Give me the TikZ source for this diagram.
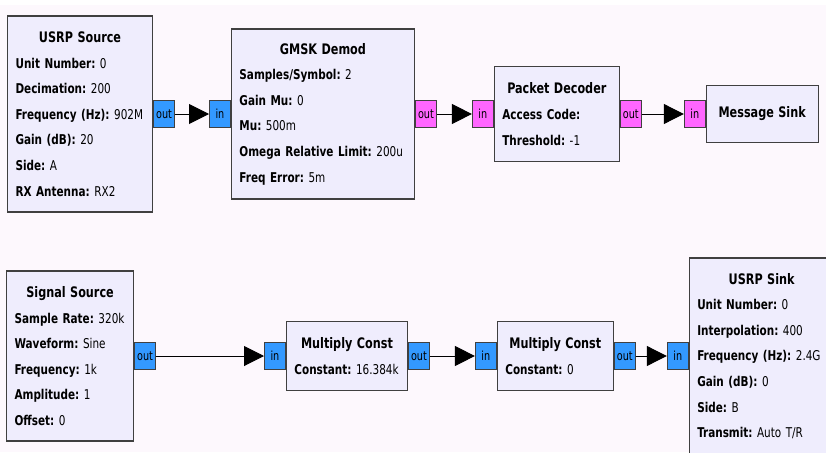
\documentclass[tikz,border=0pt]{standalone}
\usepackage{fontspec}
\setmainfont[FakeStretch=0.86]{DejaVu Sans Condensed}
\usetikzlibrary{arrows.meta, positioning}

\definecolor{canvas}{RGB}{253,248,253}
\definecolor{blockfill}{RGB}{239,237,253}
\definecolor{cplx}{RGB}{51,153,255}
\definecolor{bytes}{RGB}{255,102,255}
\definecolor{edge}{RGB}{64,64,64}

\newcommand{\blocktitle}[1]{\makebox[\hsize]{\fontsize{14.5}{25.6}\selectfont\textbf{#1}}}
\newcommand{\param}[2]{\mbox{\textbf{#1:}~#2}}

\begin{document}
\begin{tikzpicture}[x=1pt, y=-1pt,
        block/.style={rectangle, draw=edge, line width=1.1pt, fill=blockfill, align=left,
                      inner xsep=8pt, inner ysep=0pt, font=\fontsize{13.5}{25.6}\selectfont},
        port/.style={rectangle, draw=edge, line width=0.9pt, minimum width=21pt, minimum height=27pt,
                     inner sep=0pt, font=\fontsize{12.5}{14}\selectfont},
        cport/.style={port, fill=cplx},
        bport/.style={port, fill=bytes},
        wire/.style={-{Triangle[length=20pt, width=20pt]}, line width=1pt, draw=black}
    ]
        \useasboundingbox (0,0) rectangle (826,452);
        \clip (0,0) rectangle (826,452);
        \fill[white] (0,0) rectangle (826,452);
        \fill[canvas] (0,5) rectangle (826,452);

        \node[block, anchor=west, text width=129pt, minimum height=196pt] (usrpsrc) at (7,114) {
            \blocktitle{USRP Source}\\
            \param{Unit Number}{0}\\
            \param{Decimation}{200}\\
            \param{Frequency (Hz)}{902M}\\
            \param{Gain (dB)}{20}\\
            \param{Side}{A}\\
            \param{RX Antenna}{RX2}
        };
        \node[cport, right=0pt of usrpsrc] (usrpsrc-out) {out};
        \node[cport, right=34pt of usrpsrc-out] (gmsk-in) {in};
        \node[block, right=0pt of gmsk-in, text width=167pt, minimum height=170pt] (gmsk) {
            \blocktitle{GMSK Demod}\\
            \param{Samples/Symbol}{2}\\
            \param{Gain Mu}{0}\\
            \param{Mu}{500m}\\
            \param{Omega Relative Limit}{200u}\\
            \param{Freq Error}{5m}
        };
        \node[bport, right=0pt of gmsk] (gmsk-out) {out};
        \node[bport, right=35pt of gmsk-out] (pktdec-in) {in};
        \node[block, right=0pt of pktdec-in, text width=109pt, minimum height=95pt] (pktdec) {
            \blocktitle{Packet Decoder}\\
            \param{Access Code}{}\\
            \param{Threshold}{-1}
        };
        \node[bport, right=0pt of pktdec] (pktdec-out) {out};
        \node[bport, right=42pt of pktdec-out] (msgsink-in) {in};
        \node[block, right=0pt of msgsink-in, text width=96pt, minimum height=57pt] (msgsink) {
            \blocktitle{Message Sink}
        };

        \node[block, anchor=west, text width=111pt, minimum height=170pt] (sigsrc) at (6,356) {
            \blocktitle{Signal Source}\\
            \param{Sample Rate}{320k}\\
            \param{Waveform}{Sine}\\
            \param{Frequency}{1k}\\
            \param{Amplitude}{1}\\
            \param{Offset}{0}
        };
        \node[cport, right=0pt of sigsrc] (sigsrc-out) {out};
        \node[cport, right=108pt of sigsrc-out] (mult1-in) {in};
        \node[block, right=0pt of mult1-in, text width=105pt, minimum height=69pt] (mult1) {
            \blocktitle{Multiply Const}\\
            \param{Constant}{16.384k}
        };
        \node[cport, right=0pt of mult1] (mult1-out) {out};
        \node[cport, right=45pt of mult1-out] (mult2-in) {in};
        \node[block, right=0pt of mult2-in, text width=100pt, minimum height=69pt] (mult2) {
            \blocktitle{Multiply Const}\\
            \param{Constant}{0}
        };
        \node[cport, right=0pt of mult2] (mult2-out) {out};
        \node[cport, right=31pt of mult2-out] (usrpsink-in) {in};
        \node[block, right=0pt of usrpsink-in, text width=129pt, minimum height=196pt] (usrpsink) {
            \blocktitle{USRP Sink}\\
            \param{Unit Number}{0}\\
            \param{Interpolation}{400}\\
            \param{Frequency (Hz)}{2.4G}\\
            \param{Gain (dB)}{0}\\
            \param{Side}{B}\\
            \param{Transmit}{Auto T/R}
        };

        \draw[wire] (usrpsrc-out) -- (gmsk-in);
        \draw[wire] (gmsk-out) -- (pktdec-in);
        \draw[wire] (pktdec-out) -- (msgsink-in);
        \draw[wire] (sigsrc-out) -- (mult1-in);
        \draw[wire] (mult1-out) -- (mult2-in);
        \draw[wire] (mult2-out) -- (usrpsink-in);
    \end{tikzpicture}
\end{document}
